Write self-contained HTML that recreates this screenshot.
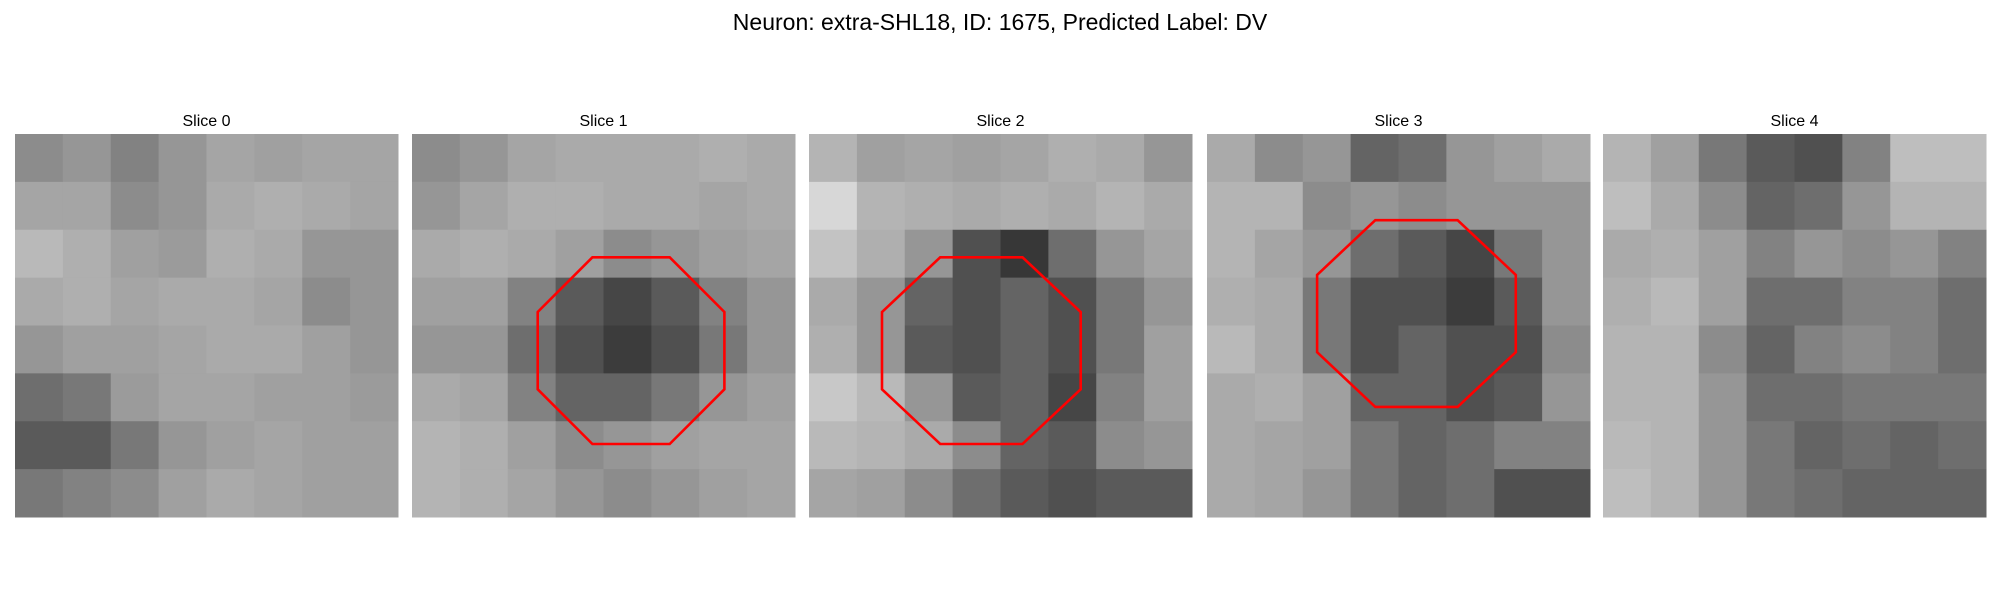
<!DOCTYPE html>
<html><head><meta charset="utf-8">
<style>
html,body{margin:0;padding:0;background:#fff;}
svg{display:block;}
text{font-family:"Liberation Sans","DejaVu Sans",sans-serif;fill:#000;}
</style></head>
<body>
<svg id="fig" width="2000" height="600" viewBox="0 0 2000 600" xmlns="http://www.w3.org/2000/svg">
<rect x="0" y="0" width="2000" height="600" fill="#fff"/>
<text x="1000" y="30" text-anchor="middle" font-size="23">Neuron: extra-SHL18, ID: 1675, Predicted Label: DV</text>
</svg>
<script>
const sliceTitles = ["Slice 0","Slice 1","Slice 2","Slice 3","Slice 4"];
const gridN = 32;
const coarseN = 8;
const slice0 = [
[140,150,130,150,165,160,165,165],
[165,165,140,150,170,175,170,165],
[185,175,160,155,175,170,150,150],
[170,175,165,170,170,165,140,150],
[150,160,160,165,170,170,160,150],
[110,120,155,165,165,160,160,155],
[90,90,120,150,160,165,160,160],
[120,130,140,160,170,165,160,160]];
const slice1 = [
[140,150,165,170,170,170,175,170],
[150,165,175,175,170,170,165,170],
[170,175,170,160,140,150,160,165],
[160,160,130,90,70,90,130,150],
[150,150,110,80,60,80,120,150],
[170,165,130,100,100,120,150,160],
[180,175,160,140,150,160,165,165],
[180,175,165,150,140,150,160,165]];
const slice2 = [
[180,160,165,160,165,175,170,150],
[215,180,175,170,175,170,180,170],
[195,175,150,80,55,110,150,165],
[170,150,100,80,100,80,120,150],
[175,150,90,80,100,80,120,160],
[200,185,150,90,100,70,130,160],
[185,180,170,140,100,90,140,150],
[165,160,140,110,90,80,90,90]];
const slice3 = [
[170,140,150,100,110,150,160,170],
[180,180,140,150,140,150,150,150],
[180,165,150,110,90,70,120,150],
[175,170,120,80,80,60,90,150],
[185,170,120,80,100,80,80,140],
[170,175,160,100,100,80,90,150],
[170,165,160,120,100,110,130,130],
[170,165,150,120,100,110,80,80]];
const slice4 = [
[180,160,120,90,80,130,190,190],
[190,170,140,100,110,150,180,180],
[170,175,160,130,150,140,150,130],
[175,185,160,110,110,130,130,110],
[180,180,140,100,130,140,130,110],
[180,180,150,110,110,120,120,120],
[185,180,150,120,100,110,100,110],
[190,180,150,120,110,100,100,100]];
const slices = [slice0,slice1,slice2,slice3,slice4];
// octagon ROI in cell units: [slice index, cx, cy, apothem-x, apothem-y]
const roiSlice = [1,2,3];
const roiCx = [18.3,14.4,17.5];
const roiCy = [18.1,18.1,15.0];
const roiAx = [7.8,8.3,8.3];
const roiAy = [7.8,7.8,7.8];

const NS="http://www.w3.org/2000/svg";
const svg=document.getElementById('fig');
const panelX=[15,412,809,1207,1603];
const panelY=134, panelW=383;
const cell=panelW/gridN;
function sx(p,c){return panelX[p]+c*cell;}
function sy(r){return panelY+r*cell;}
function mk(tag,attrs){const e=document.createElementNS(NS,tag);for(const k in attrs)e.setAttribute(k,attrs[k]);return e;}

slices.forEach((data,p)=>{
  const g=mk('g',{});
  
  
  svg.appendChild(g);
  const t=mk('text',{x:sx(p,gridN/2),y:126,'text-anchor':'middle','font-size':16});
  t.textContent=sliceTitles[p];
  
  
  g.appendChild(t);
  const blk=gridN/coarseN;
  data.forEach((row,r)=>{row.forEach((v,c)=>{
    const rc=mk('rect',{x:sx(p,c*blk),y:sy(r*blk),width:cell*blk+0.5,height:cell*blk+0.5,fill:`rgb(${v},${v},${v})`});
    
    
    g.appendChild(rc);
  });});
});
roiSlice.forEach((p,i)=>{
  const Rx=roiAx[i]/Math.cos(Math.PI/8), Ry=roiAy[i]/Math.cos(Math.PI/8);
  const pts=[];
  for(let k=0;k<8;k++){const a=Math.PI/8+k*Math.PI/4;
    pts.push(sx(p,roiCx[i]+Rx*Math.cos(a)).toFixed(1)+','+sy(roiCy[i]+Ry*Math.sin(a)).toFixed(1));}
  const pg=mk('polygon',{points:pts.join(' '),fill:'none',stroke:'#ff0000','stroke-width':2.6});
  
  
  svg.appendChild(pg);
});
</script>
</body></html>
